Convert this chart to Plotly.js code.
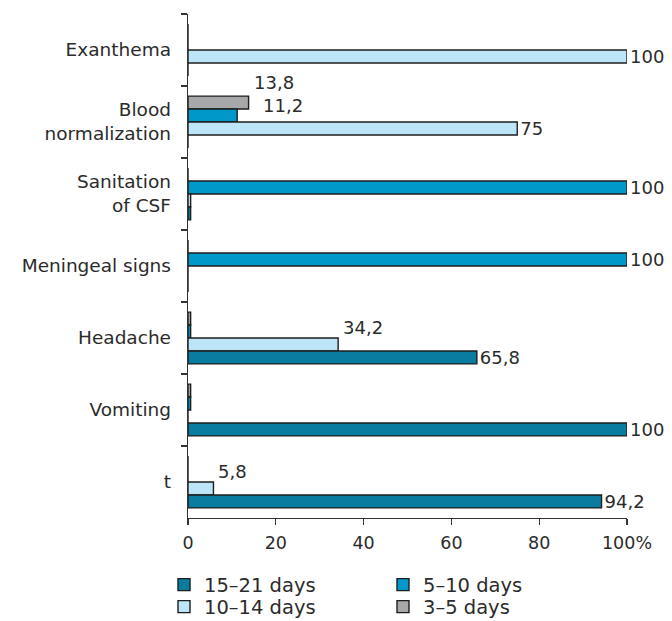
<!DOCTYPE html>
<html>
<head>
<meta charset="utf-8">
<script src="https://cdn.plot.ly/plotly-3.0.1.min.js"></script>
<style>html,body{margin:0;padding:0;background:#fff;}#chart{width:672px;height:621px;}</style>
</head>
<body>
<div id="chart"></div>
<script>
// Categories, top to bottom
const categories = ["Exanthema", "Blood<br>normalization", "Sanitation<br>of CSF", "Meningeal signs", "Headache", "Vomiting", "t"];

// Series values (percent); tiny values stand for the zero-height slivers in the original
const days3to5   = [0, 13.8, 0, 0, 0.6, 0.6, 0];
const days5to10  = [0, 11.2, 100, 100, 0.6, 0.6, 0];
const days10to14 = [100, 75, 0.6, 0, 34.2, 0, 5.8];
const days15to21 = [0, 0, 0.6, 0, 65.8, 100, 94.2];

const labels3to5   = ["", "13,8", "", "", "", "", ""];
const labels5to10  = ["", "11,2", "100", "100", "", "", ""];
const labels10to14 = ["100", "75", "", "", "34,2", "", "5,8"];
const labels15to21 = ["", "", "", "", "65,8", "100", "94,2"];

const seriesNames = ["3\u20135 days", "5\u201310 days", "10\u201314 days", "15\u201321 days"];
const xTickVals = [0, 20, 40, 60, 80, 100];
const xTickText = ["0", "20", "40", "60", "80", "100%"];

// value labels placed off the default "right of bar" spot: [series index, category index, xshift px, yshift px]
const movedLabels = [[0, 1, 3, 20], [1, 1, 24, 10], [2, 4, 3, 17], [2, 6, 3, 17]];

const FONT = "'DejaVu Sans', 'Noto Sans', sans-serif";
const TXT = "#2b2b2b";
const BARGAP = 0.28;

const seriesVals = [days3to5, days5to10, days10to14, days15to21];
const seriesLabels = [labels3to5, labels5to10, labels10to14, labels15to21];
const seriesColors = ["#a7a8aa", "#0097c9", "#bce5f8", "#0a7c9f"];
const seriesLegends = ["legend4", "legend2", "legend3", "legend"];

function isMoved(s, c) { return movedLabels.some(p => p[0] === s && p[1] === c); }

const data = seriesVals.map((vals, s) => ({
  type: "bar", orientation: "h", name: seriesNames[s],
  y: categories, x: vals,
  text: seriesLabels[s].map((t, c) => isMoved(s, c) ? "" : t),
  textposition: "outside", cliponaxis: false, constraintext: "none",
  textfont: {family: FONT, size: 18, color: TXT},
  marker: {color: seriesColors[s], line: {color: "#1e1e1e", width: 1.4}},
  legend: seriesLegends[s], hoverinfo: "x+y"
}));

// moved labels as annotations anchored at the bar ends
const nSeries = seriesVals.length;
const slot = (1 - BARGAP) / nSeries;
const annotations = movedLabels.map(([s, c, dx, dy]) => ({
  x: seriesVals[s][c], y: c - (1 - BARGAP) / 2 + slot * (s + 0.5),
  xref: "x", yref: "y", text: seriesLabels[s][c], showarrow: false,
  xanchor: "left", yanchor: "middle", xshift: dx, yshift: dy,
  font: {family: FONT, size: 18, color: TXT}
}));

function leg(x, y) {
  return {xref: "container", yref: "container", x: x, y: y, xanchor: "left", yanchor: "middle",
          font: {family: FONT, size: 19.5, color: TXT}, bgcolor: "rgba(0,0,0,0)", itemwidth: 30};
}

const layout = {
  width: 672, height: 621,
  margin: {l: 188, r: 45, t: 14, b: 103, autoexpand: false},
  paper_bgcolor: "#fff", plot_bgcolor: "#fff",
  font: {family: FONT, size: 18, color: TXT},
  barmode: "group", bargap: BARGAP, bargroupgap: 0,
  showlegend: true,
  legend:  leg(164/672, 1 - 585/621),
  legend2: leg(383/672, 1 - 585/621),
  legend3: leg(164/672, 1 - 607/621),
  legend4: leg(383/672, 1 - 607/621),
  annotations: annotations,
  xaxis: {
    range: [0, 100], tickvals: xTickVals, ticktext: xTickText, automargin: false, tickangle: 0,
    ticks: "outside", ticklen: 6, tickcolor: "#333", tickwidth: 1.3,
    showline: true, linecolor: "#333", linewidth: 1.3, ticklabelstandoff: 3,
    showgrid: false, zeroline: false, fixedrange: true,
    tickfont: {family: FONT, size: 17.5, color: TXT}
  },
  yaxis: {
    autorange: "reversed", type: "category", automargin: false,
    ticks: "outside", tickson: "boundaries", ticklen: 6, tickcolor: "#333", tickwidth: 1.3,
    showline: true, linecolor: "#333", linewidth: 1.3,
    showgrid: false, zeroline: false, fixedrange: true, ticklabelstandoff: 12,
    tickfont: {family: FONT, size: 18.5, color: TXT}
  }
};

Plotly.newPlot("chart", data, layout, {displayModeBar: false, staticPlot: true});
</script>
</body>
</html>
